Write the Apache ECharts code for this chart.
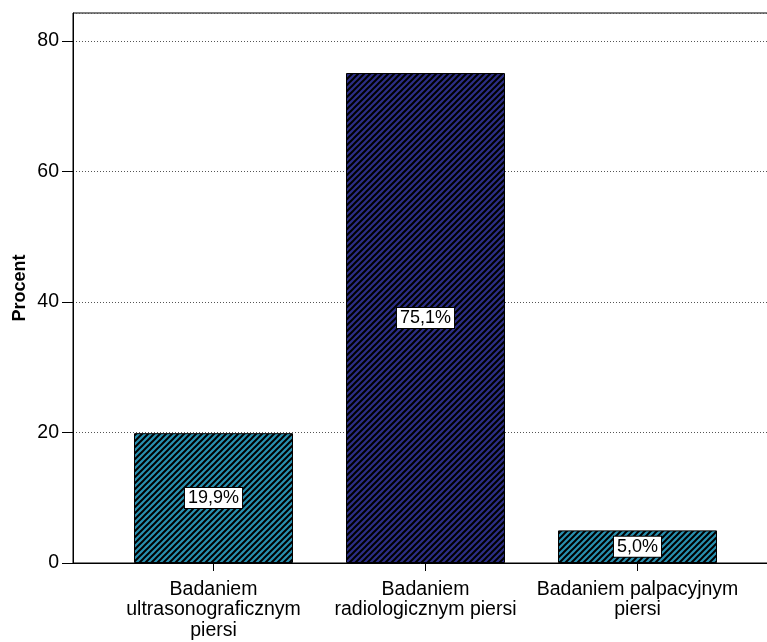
<!DOCTYPE html>
<html>
<head>
<meta charset="utf-8">
<script src="https://cdn.jsdelivr.net/npm/echarts@6/dist/echarts.min.js"></script>
<style>
  html, body { margin: 0; padding: 0; background: #fff; }
  #chart { width: 767px; height: 642px; }
</style>
</head>
<body>
<div id="chart"></div>
<script>
// Survey answers: percent of respondents per examination type
const categories = [
  'Badaniem\nultrasonograficznym\npiersi',
  'Badaniem\nradiologicznym piersi',
  'Badaniem palpacyjnym\npiersi'
];
const percentValues = [19.9, 75.1, 5.0];
const barColors = ['#2890b0', '#2c2e86'];
const barColorIndex = [0, 1, 0];
const yTicks = [0, 20, 40, 60, 80];

// Diagonal hatch pattern over a base colour
function hatch(base) {
  const s = 6;
  const c = document.createElement('canvas');
  c.width = s; c.height = s;
  const g = c.getContext('2d');
  g.fillStyle = base;
  g.fillRect(0, 0, s, s);
  g.strokeStyle = '#000';
  g.lineWidth = 2;
  g.beginPath();
  g.moveTo(-1, s + 1); g.lineTo(s + 1, -1);
  g.moveTo(-1, 1); g.lineTo(1, -1);
  g.moveTo(s - 1, s + 1); g.lineTo(s + 1, s - 1);
  g.stroke();
  return { image: c, repeat: 'repeat' };
}

const yMax = 84.3;
const font = 'Liberation Sans, Arial, sans-serif';

const chart = echarts.init(document.getElementById('chart'));
chart.setOption({
  animation: false,
  grid: [
    { left: 73, top: 13, width: 705, height: 550, show: true, borderColor: '#000', borderWidth: 1,
      backgroundColor: 'transparent', containLabel: false, outerBoundsMode: 'none' },
    { left: 107.5, top: 13, width: 636, height: 550, containLabel: false, outerBoundsMode: 'none' }
  ],
  xAxis: [
    { gridIndex: 0, type: 'value', min: 0, max: 1, show: true,
      axisLine: { show: true, onZero: false, lineStyle: { color: '#000', width: 1 } },
      axisTick: { show: false }, axisLabel: { show: false }, splitLine: { show: false } },
    { gridIndex: 1, type: 'category', data: categories,
      axisLine: { show: false },
      axisTick: { show: true, alignWithLabel: true, length: 8, lineStyle: { color: '#000', width: 1 } },
      axisLabel: { color: '#000', fontFamily: font, fontSize: 19.5, lineHeight: 20.5, margin: 16, interval: 0 } }
  ],
  yAxis: [
    { gridIndex: 0, type: 'value', min: 0, max: yMax, interval: 20,
      name: 'Procent', nameLocation: 'middle', nameGap: 44, nameMoveOverlap: false,
      nameTextStyle: { color: '#000', fontFamily: font, fontSize: 18, fontWeight: 'bold' },
      axisLine: { show: true, onZero: false, lineStyle: { color: '#000', width: 1 } },
      axisTick: { show: true, length: 11, lineStyle: { color: '#000' } },
      axisLabel: { color: '#000', fontFamily: font, fontSize: 19.5, margin: 14, showMaxLabel: false,
        formatter: v => yTicks.includes(v) ? String(v) : '' },
      splitLine: { show: true, lineStyle: { color: '#555', type: [1, 2], width: 1 } } },
    { gridIndex: 1, type: 'value', min: 0, max: yMax, show: false }
  ],
  series: [{
    type: 'bar',
    xAxisIndex: 1, yAxisIndex: 1,
    barWidth: '75%',
    data: percentValues.map((v, i) => ({
      value: v,
      itemStyle: { color: hatch(barColors[barColorIndex[i]]), borderColor: '#000', borderWidth: 1 }
    })),
    label: {
      show: true, position: 'inside',
      formatter: p => p.value.toFixed(1).replace('.', ',') + '%',
      color: '#000', fontFamily: font, fontSize: 18,
      backgroundColor: '#fff', borderColor: '#000', borderWidth: 1, padding: [1, 3, 1, 3]
    }
  }]
});
</script>
</body>
</html>
